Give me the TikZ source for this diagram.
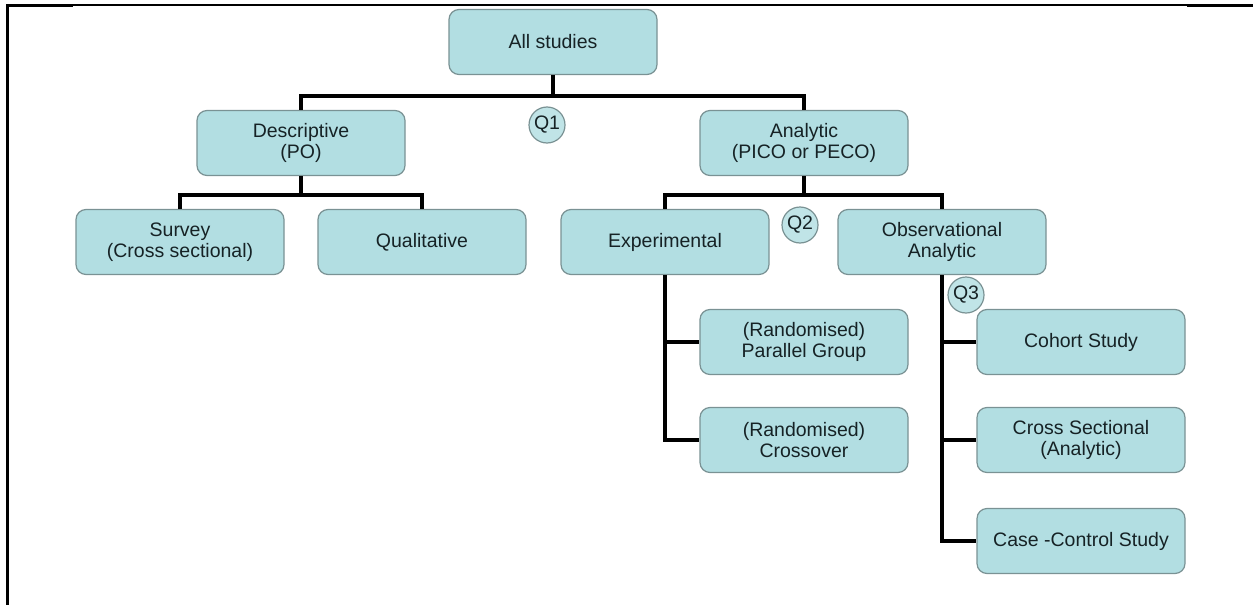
\documentclass[tikz,border=0pt]{standalone}
\usepackage{fontspec}
\setmainfont{Liberation Sans}
\definecolor{boxfill}{RGB}{178,222,226}
\definecolor{boxedge}{RGB}{122,146,148}
\definecolor{txt}{RGB}{22,34,37}
\definecolor{qfill}{RGB}{192,228,231}
\begin{document}
\begin{tikzpicture}[x=1pt,y=-1pt,
  stbox/.style={draw=boxedge, line width=1.2pt, fill=boxfill, rounded corners=10pt,
    minimum width=208pt, minimum height=65pt, align=center, text=txt,
    font=\fontsize{19.5}{21}\selectfont, inner sep=2pt},
  qmark/.style={circle, draw=boxedge, line width=1.2pt, fill=qfill, minimum size=36pt,
    inner sep=0pt, text=txt, font=\fontsize{19.5}{21}\selectfont},
  conn/.style={line width=3.5pt, black},
  frame/.style={black}]
\useasboundingbox (0,0) rectangle (1253,605);

% page frame
\draw[frame, line width=1.5pt] (7,5) -- (1253,5);
\draw[frame, line width=3pt] (7,5.5) -- (73,5.5);
\draw[frame, line width=3pt] (1187,5.5) -- (1253,5.5);
\draw[frame, line width=2.5pt] (7.5,4) -- (7.5,605);

% study boxes
\node[stbox] (all)    at (553,42)   {All studies};
\node[stbox] (desc)   at (301,143)  {Descriptive\\(PO)};
\node[stbox] (ana)    at (804,143)  {Analytic\\(PICO or PECO)};
\node[stbox] (surv)   at (180,242)  {Survey\\(Cross sectional)};
\node[stbox] (qual)   at (422,242)  {Qualitative};
\node[stbox] (exp)    at (665,242)  {Experimental};
\node[stbox] (obs)    at (942,242)  {Observational\\Analytic};
\node[stbox] (par)    at (804,342)  {(Randomised)\\Parallel Group};
\node[stbox] (xover)  at (804,440)  {(Randomised)\\Crossover};
\node[stbox] (coh)    at (1081,342) {Cohort Study};
\node[stbox] (csa)    at (1081,440) {Cross Sectional\\(Analytic)};
\node[stbox] (cc)     at (1081,541) {Case -Control Study};

% bus levels
\coordinate (bus1) at (0,96);
\coordinate (bus2) at (0,195);

% connectors
\draw[conn] (all.south) -- (all.south |- bus1);
\draw[conn] (desc.north) -- (desc.north |- bus1) -- (ana.north |- bus1) -- (ana.north);
\draw[conn] (desc.south) -- (desc.south |- bus2);
\draw[conn] (surv.north) -- (surv.north |- bus2) -- (qual.north |- bus2) -- (qual.north);
\draw[conn] (ana.south) -- (ana.south |- bus2);
\draw[conn] (exp.north) -- (exp.north |- bus2) -- (obs.north |- bus2) -- (obs.north);
\draw[conn] (exp.south) -- (exp.south |- xover.west) -- (xover.west);
\draw[conn] (exp.south |- par.west) -- (par.west);
\draw[conn] (obs.south) -- (obs.south |- cc.west) -- (cc.west);
\draw[conn] (obs.south |- coh.west) -- (coh.west);
\draw[conn] (obs.south |- csa.west) -- (csa.west);

% question markers
\node[qmark] (q1) at (547,125) {Q1};
\node[qmark] (q2) at (800,225) {Q2};
\node[qmark] (q3) at (966,295) {Q3};
\end{tikzpicture}
\end{document}
